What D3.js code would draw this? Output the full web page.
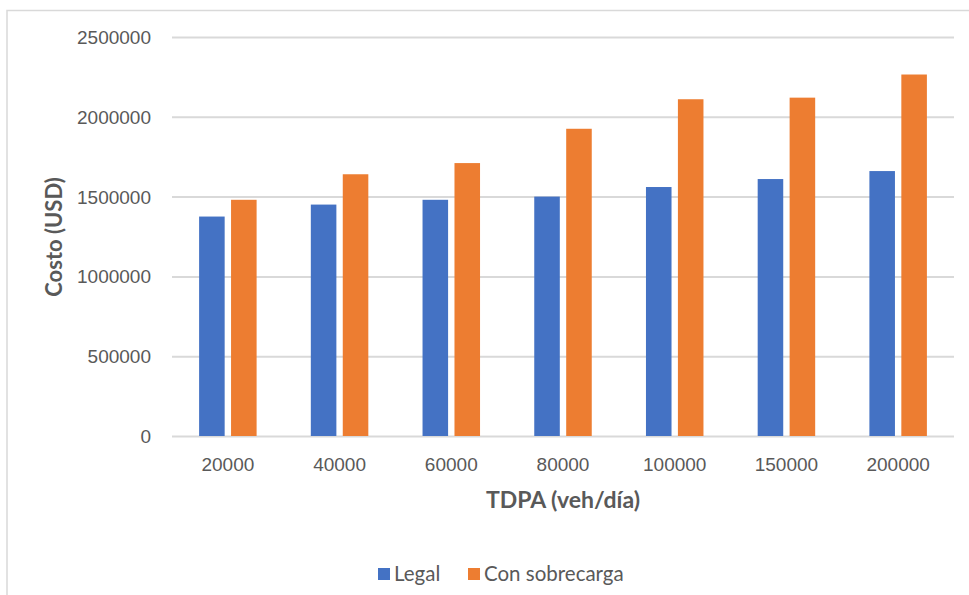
<!DOCTYPE html>
<html>
<head>
<meta charset="utf-8">
<script src="https://cdn.jsdelivr.net/npm/d3@7"></script>
<style>
  html, body { margin: 0; padding: 0; background: #ffffff; }
  svg { display: block; font-family: Lato, "Open Sans", sans-serif; }
</style>
</head>
<body>
<svg id="chart" width="969" height="595"></svg>
<script>
// Traffic volume categories (TDPA, veh/día)
const categories = ["20000", "40000", "60000", "80000", "100000", "150000", "200000"];
// Cost per scenario (USD)
const legalValues = [1375000, 1450000, 1480000, 1500000, 1560000, 1610000, 1660000];
const overloadValues = [1480000, 1640000, 1710000, 1925000, 2110000, 2120000, 2265000];
const seriesNames = ["Legal", "Con sobrecarga"];
const yTicks = [0, 500000, 1000000, 1500000, 2000000, 2500000];

const colors = { "Legal": "#4472C4", "Con sobrecarga": "#ED7D31" };
const textColor = "#595959";
const gridColor = "#d9d9d9";

const svg = d3.select("#chart");
const W = 969, H = 595;
const plot = { left: 172, right: 954, top: 37, bottom: 436 };

// chart frame
svg.append("rect")
  .attr("x", 7).attr("y", 10.5)
  .attr("width", W + 20).attr("height", H + 20)
  .attr("fill", "none").attr("stroke", gridColor).attr("stroke-width", 1.5);

const x0 = d3.scaleBand().domain(categories).range([plot.left, plot.right]).padding(0);
const y = d3.scaleLinear().domain([0, 2500000]).range([plot.bottom, plot.top]);

const rows = categories.map((c, i) => ({
  cat: c,
  values: [
    { key: "Legal", value: legalValues[i] },
    { key: "Con sobrecarga", value: overloadValues[i] }
  ]
}));

// horizontal gridlines
const yAxis = d3.axisLeft(y).tickValues(yTicks).tickFormat(d3.format("d"))
  .tickSize(-(plot.right - plot.left)).tickPadding(21);
const gy = svg.append("g").attr("transform", `translate(${plot.left},0)`).call(yAxis);
gy.select(".domain").remove();
gy.selectAll(".tick line").attr("stroke", gridColor).attr("stroke-width", 2);
gy.selectAll(".tick text")
  .attr("fill", textColor).style("font-size", "19px").attr("dy", "0.34em");

// bars
const groups = svg.append("g").selectAll("g").data(rows).join("g");
groups.each(function(d) {
  const cx = x0(d.cat) + x0.bandwidth() / 2;
  const x1 = d3.scaleBand().domain(seriesNames).range([cx - 28.75, cx + 28.75]).paddingInner(0.2);
  d3.select(this).selectAll("rect").data(d.values).join("rect")
    .attr("x", v => x1(v.key))
    .attr("width", x1.bandwidth())
    .attr("y", v => y(v.value))
    .attr("height", v => y(0) - y(v.value))
    .attr("fill", v => colors[v.key]);
});

// category axis labels
const xAxis = d3.axisBottom(x0).tickSize(0).tickPadding(0);
const gx = svg.append("g").attr("transform", `translate(0,${plot.bottom})`).call(xAxis);
gx.select(".domain").remove();
gx.selectAll(".tick text")
  .attr("fill", textColor).style("font-size", "19px")
  .attr("y", 29).attr("dy", "0.34em");

// axis titles
svg.append("text")
  .attr("x", (plot.left + plot.right) / 2).attr("y", 500).attr("dy", "0.35em")
  .attr("text-anchor", "middle").attr("fill", textColor)
  .style("font-size", "23px").style("font-weight", "bold")
  .text("TDPA (veh/día)");

svg.append("text")
  .attr("transform", `translate(54,237) rotate(-90)`).attr("dy", "0.35em")
  .attr("text-anchor", "middle").attr("fill", textColor)
  .style("font-size", "22px").style("font-weight", "bold")
  .text("Costo (USD)");

// legend
const legendItems = [
  { key: "Legal", x: 378 },
  { key: "Con sobrecarga", x: 468 }
];
const lg = svg.append("g");
legendItems.forEach(it => {
  lg.append("rect").attr("x", it.x).attr("y", 568).attr("width", 12).attr("height", 12)
    .attr("fill", colors[it.key]);
  lg.append("text").attr("x", it.x + 16).attr("y", 574).attr("dy", "0.36em")
    .attr("fill", textColor).style("font-size", "20.5px").text(it.key);
});
</script>
</body>
</html>
